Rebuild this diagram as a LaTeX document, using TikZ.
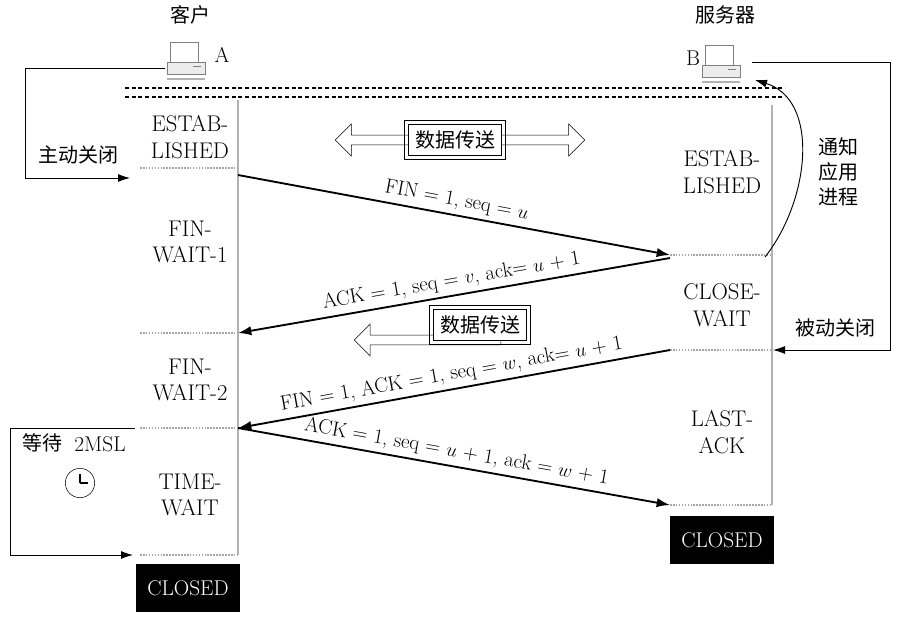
\documentclass[tikz,border=0pt]{standalone}
\usepackage{fontspec}
\newfontfamily\cjk{Noto Sans CJK SC}
\usetikzlibrary{shapes.arrows,arrows.meta,calc}
\tikzset{
  state/.style={align=center, font=\fontsize{17}{20}\selectfont},
  cn/.style={font=\cjk\fontsize{15}{19}\selectfont},
  sep/.style={gray!70, densely dotted, line width=1.2pt},
  wall/.style={gray!60, line width=0.8pt},
  msg/.style={-{Latex[length=10pt,width=7pt]}, line width=1.4pt},
  lbl/.style={font=\fontsize{15.5}{17}\selectfont, sloped, above, midway},
  loop/.style={-{Latex[length=9pt,width=6pt]}, line width=0.7pt},
  closed/.style={fill=black, text=white, minimum width=78pt, minimum height=36pt, font=\fontsize{16}{18}\selectfont},
  data/.style={draw, line width=0.8pt, fill=white, cn, inner sep=5pt},
  fat/.style={single arrow, draw, fill=white, minimum height=#1, minimum width=24pt, single arrow head extend=5pt, inner sep=2pt}
}
\newcommand{\pc}[1]{%
  \draw[gray] (#1)++(-15,-20) rectangle ++(28,20);
  \draw[gray, fill=gray!15] (#1)++(-18,0) rectangle ++(38,12);
  \draw[gray] (#1)++(8,4) -- ++(8,0);
  \draw[gray!60, line width=1.5pt] (#1)++(-18,17) -- ++(38,0);
}
\newcommand{\frm}[1]{\draw[line width=0.8pt] ($(#1.south west)+(-3,3)$) rectangle ($(#1.north east)+(3,-3)$);}
\begin{document}
\begin{tikzpicture}[x=0.75pt, y=-0.75pt]
\useasboundingbox (0,0) rectangle (910,626);
% computers
\node[cn] (cli) at (190,15) {客户};
\node[cn] (srv) at (725,15) {服务器};
\coordinate (pcA) at (185,62);
\coordinate (pcB) at (720,65);
\pc{pcA}
\pc{pcB}
\node[font=\fontsize{16}{18}\selectfont] (A) at (222,55) {A};
\node[font=\fontsize{16}{18}\selectfont] (B) at (693,58) {B};
% double dashed line
\draw[densely dashed, line width=1pt] (125,88) -- (785,88);
\draw[densely dashed, line width=1pt] (125,97) -- (785,97);
% columns
\draw[wall] (238,100) -- (238,555);
\draw[wall] (772,105) -- (772,505);
\foreach \y in {168,333,428,555}
  \draw[sep] (140,\y) -- (238,\y);
\foreach \y in {255,350,505}
  \draw[sep] (670,\y) -- (772,\y);
% states
\node[state] (c1) at (190,137) {ESTAB-\\LISHED};
\node[state] (c2) at (190,242) {FIN-\\WAIT-1};
\node[state] (c3) at (190,380) {FIN-\\WAIT-2};
\node[state] (c4) at (190,495) {TIME-\\WAIT};
\node[closed] (c5) at (188,588) {CLOSED};
\node[state] (s1) at (722,172) {ESTAB-\\LISHED};
\node[state] (s2) at (722,305) {CLOSE-\\WAIT};
\node[state] (s3) at (722,432) {LAST-\\ACK};
\node[closed] (s4) at (722,540) {CLOSED};
% messages
\coordinate (m1a) at (238,175); \coordinate (m1b) at (670,255);
\coordinate (m2a) at (670,258); \coordinate (m2b) at (238,333);
\coordinate (m3a) at (670,350); \coordinate (m3b) at (238,428);
\coordinate (m4a) at (238,428); \coordinate (m4b) at (670,505);
\draw[msg] (m1a) -- node[lbl] {FIN = 1, seq = $u$} (m1b);
\draw[msg] (m2a) -- node[lbl] {ACK = 1, seq = $v$, ack= $u$ + 1} (m2b);
\draw[msg] (m3a) -- node[lbl] {FIN = 1, ACK = 1, seq = $w$, ack= $u$ + 1} (m3b);
\draw[msg] (m4a) -- node[lbl] {ACK = 1, seq = $u$ + 1, ack = $w$ + 1} (m4b);
% data transfer
\node[double arrow, draw, fill=white, minimum height=187pt, minimum width=24pt, double arrow head extend=5pt, inner sep=2pt] (d1a) at (460,140) {};
\node[data] (d1) at (455,140) {数据传送};
\frm{d1}
\node[fat=110pt, shape border rotate=180] (d2a) at (430,340) {};
\node[data] (d2) at (480,325) {数据传送};
\frm{d2}
% client close
\coordinate (ac1) at (165,68); \coordinate (ac2) at (130,178);
\draw[loop] (ac1) -- (25,68) -- (25,178) -- (ac2);
\node[cn] (act) at (78,155) {主动关闭};
\coordinate (tw1) at (135,428); \coordinate (tw2) at (133,555);
\draw[loop] (tw1) -- (10,428) -- (10,555) -- (tw2);
\node[cn] (wait) at (42,443) {等待};
\node[font=\fontsize{16}{18}\selectfont] (msl) at (100,444) {2MSL};
\node[draw, circle, minimum size=22pt, inner sep=0pt] (clk) at (80,483) {};
\draw[line width=1.2pt] (clk.center) -- ++(0,-9) (clk.center) -- ++(8,0);
% server close
\coordinate (pb1) at (752,62); \coordinate (pb2) at (773,350);
\draw[loop] (pb1) -- (890,62) -- (890,350) -- (pb2);
\node[cn] (pas) at (835,328) {被动关闭};
\coordinate (n1) at (765,257); \coordinate (n2) at (755,80);
\draw[loop] (n1) .. controls (810,200) and (820,100) .. (n2);
\node[cn, align=center] (note) at (838,172) {通知\\应用\\进程};
\end{tikzpicture}
\end{document}
